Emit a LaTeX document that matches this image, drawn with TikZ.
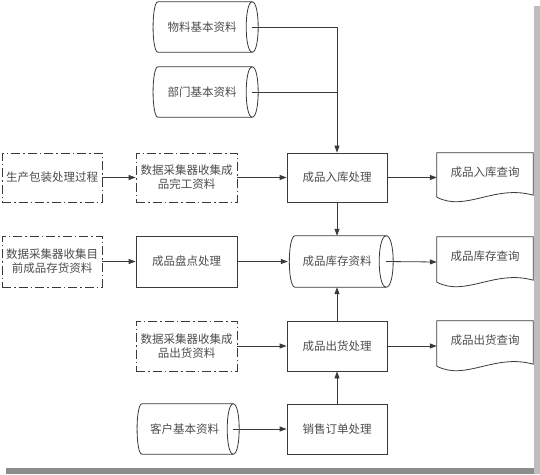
\documentclass[tikz,border=0pt]{standalone}
\usepackage{fontspec}
\newfontfamily\cjk{Noto Sans CJK SC}
\usetikzlibrary{arrows.meta,calc}
\definecolor{lnc}{HTML}{3A3A3A}
\definecolor{txc}{HTML}{4D4D4D}
\definecolor{shadowR}{HTML}{BDBDBD}
\definecolor{shadowB}{HTML}{8C8C8C}
\tikzset{
  txt/.style={font=\cjk\fontsize{11.5}{14}\selectfont, text=txc, align=center, inner sep=0pt},
  procbox/.style={txt, draw=lnc, line width=0.8pt, minimum width=100pt, minimum height=50pt},
  extbox/.style={txt, draw=lnc, line width=0.8pt, dash pattern=on 9pt off 3pt on 1.5pt off 3pt, minimum width=100pt, minimum height=50pt},
  cylbody/.style={txt, minimum width=100pt, minimum height=50pt},
  docbody/.style={txt, minimum width=96pt, minimum height=50pt, text height=9pt, text depth=12pt},
  shp/.style={draw=lnc, line width=0.8pt},
  conn/.style={draw=lnc, line width=0.8pt, -{Triangle[length=7pt,width=5pt]}},
  plain/.style={draw=lnc, line width=0.8pt}
}
\newcommand\drawcyl[2]{%
  \draw[shp] ([xshift=#2pt]#1.north west) -- (#1.north east)
    (#1.south east) -- ([xshift=#2pt]#1.south west)
    ([xshift=#2pt]#1.north west) .. controls ([xshift=-0.3pt, yshift=-1pt]#1.north west) and ([xshift=-0.3pt, yshift=1pt]#1.south west) .. ([xshift=#2pt]#1.south west);
  \draw[shp] (#1.north east) .. controls ([xshift=-1.33*#2pt]#1.north east) and ([xshift=-1.33*#2pt]#1.south east) .. (#1.south east)
    .. controls ([xshift=1.33*#2pt]#1.south east) and ([xshift=1.33*#2pt]#1.north east) .. (#1.north east);
}
\newcommand\drawdoc[1]{%
  \draw[shp] ([yshift=5pt]#1.south west) -- (#1.north west) -- (#1.north east) -- ([yshift=7pt]#1.south east)
    .. controls ($(#1.south west)!0.6!(#1.south east)+(0,-18)$) and ($(#1.south west)!0.3!(#1.south east)+(0,10)$) .. ([yshift=5pt]#1.south west);
}
\begin{document}
\begin{tikzpicture}[x=1pt,y=-1pt]
\useasboundingbox (0,0) rectangle (540,474);
\fill[white] (0,0) rectangle (540,474);
\fill[shadowR] (534,6) rectangle (540,474);
\fill[shadowB] (6,468) rectangle (534,474);

% cylinders
\node[cylbody, minimum width=100pt] (wl) at (202,27) {物料基本资料};
\node[cylbody, minimum width=100pt] (bm) at (202,92) {部门基本资料};
\node[cylbody, minimum width=98pt, minimum height=51pt] (kc) at (337,261.5) {成品库存资料};
\node[cylbody, minimum width=97pt] (kh) at (184.5,429) {客户基本资料};
\drawcyl{wl}{6}
\drawcyl{bm}{6}
\drawcyl{kc}{7}
\drawcyl{kh}{6}

% process boxes
\node[procbox, minimum height=49pt] (rk) at (337,177.5) {成品入库处理};
\node[procbox, minimum width=101pt, minimum height=51pt] (pd) at (186.5,261.5) {成品盘点处理};
\node[procbox] (ch) at (337,346) {成品出货处理};
\node[procbox] (xs) at (337,429) {销售订单处理};

% external (dash-dot) boxes
\node[extbox, minimum height=49pt] (sc) at (52,177.5) {生产包装处理过程};
\node[extbox, minimum width=101pt, minimum height=49pt] (sj1) at (186.5,177.5) {数据采集器收集成\\品完工资料};
\node[extbox, minimum height=51pt] (sj2) at (52,261.5) {数据采集器收集目\\前成品存货资料};
\node[extbox, minimum width=101pt] (sjc) at (186.5,346) {数据采集器收集成\\品出货资料};

% documents
\node[docbody, minimum height=49pt] (rkq) at (485,177.5) {成品入库查询};
\node[docbody] (kcq) at (485,262) {成品库存查询};
\node[docbody] (chq) at (485,346) {成品出货查询};
\drawdoc{rkq}
\drawdoc{kcq}
\drawdoc{chq}

% connectors
\draw[conn] (wl.east) -| (rk.north);
\draw[plain] (bm.east) -- (bm.east -| rk.north);
\draw[conn] (sc.east) -- (sj1.west);
\draw[conn] (sj1.east) -- (rk.west);
\draw[conn] (rk.east) -- (rkq.west);
\draw[conn] (rk.south) -- (kc.north);
\draw[conn] (sj2.east) -- (pd.west);
\draw[conn] (pd.east) -- (kc.west);
\draw[conn] (kc.east) -- (kcq.west);
\draw[conn] (ch.north) -- (kc.south);
\draw[conn] (sjc.east) -- (ch.west);
\draw[conn] (ch.east) -- (chq.west);
\draw[conn] (xs.north) -- (ch.south);
\draw[conn] (kh.east) -- (xs.west);
\end{tikzpicture}
\end{document}
